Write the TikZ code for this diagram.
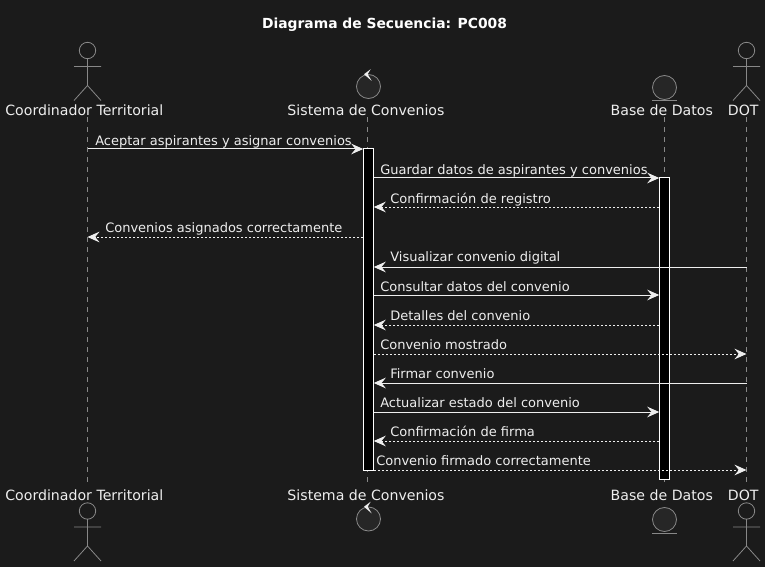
\documentclass[tikz,border=0pt]{standalone}
\usepackage{fontspec}
\setmainfont{DejaVu Sans}
\usetikzlibrary{arrows.meta}
\definecolor{bgcol}{HTML}{1B1B1B}
\definecolor{figcol}{HTML}{888888}
\definecolor{figfill}{HTML}{262626}
\definecolor{msgcol}{HTML}{EEEEEE}
\tikzset{
  msgtip/.style={-{Stealth[length=9pt,width=8pt,inset=3.2pt]}},
  msg/.style={draw=msgcol,line width=.75pt,msgtip},
  reply/.style={msg,dash pattern=on 1.5pt off 1.5pt},
  msgtext/.style={anchor=base west,inner sep=0pt,text=msgcol,font=\fontsize{9.75}{12}\selectfont},
  partname/.style={anchor=base,inner sep=0pt,text=msgcol,font=\fontsize{10.6}{13}\selectfont},
  lifeline/.style={draw=figcol,line width=.6pt,dash pattern=on 3.75pt off 3.75pt},
  figure/.style={draw=figcol,line width=.6pt},
  actbox/.style={draw=white,fill=black,line width=.75pt,minimum width=7.2pt,inner sep=0pt},
}
\begin{document}
\begin{tikzpicture}[x=.75pt,y=-.75pt]
  \fill[bgcol] (0,0) rectangle (765,567);
  \useasboundingbox (0,0) rectangle (765,567);
  \node[anchor=base,inner sep=0pt,text=white,font=\fontsize{10.4}{13}\selectfont\bfseries] (Title) at (384.5,29) {Diagrama de Secuencia: PC008};

  % lifelines
  \coordinate (CoordTop) at (87.5,117);
  \coordinate (CoordEnd) at (87.5,483);
  \coordinate (SistTop) at (367.5,117);
  \coordinate (SistEnd) at (367.5,483);
  \coordinate (BaseTop) at (664.5,117);
  \coordinate (BaseEnd) at (664.5,483);
  \coordinate (DotTop) at (746.5,117);
  \coordinate (DotEnd) at (746.5,483);
  \draw[lifeline] (CoordTop) -- (CoordEnd);
  \draw[lifeline] (SistTop) -- (SistEnd);
  \draw[lifeline] (BaseTop) -- (BaseEnd);
  \draw[lifeline] (DotTop) -- (DotEnd);

  % activation bars
  \node[actbox,minimum height=240.75pt] (ActSist) at (368.5,309.5) {};
  \node[actbox,minimum height=225.75pt] (ActBase) at (664.5,328.5) {};

  % names, top and bottom
  \node[partname] (CoordNameA) at (84.3,115.5) {Coordinador Territorial};
  \node[partname] (SistNameA) at (366,115.5) {Sistema de Convenios};
  \node[partname] (BaseNameA) at (661.8,115.5) {Base de Datos};
  \node[partname] (DotNameA) at (743.3,115.5) {DOT};
  \node[partname] (CoordNameB) at (84.3,500) {Coordinador Territorial};
  \node[partname] (SistNameB) at (366,500) {Sistema de Convenios};
  \node[partname] (BaseNameB) at (661.8,500) {Base de Datos};
  \node[partname] (DotNameB) at (743.3,500) {DOT};

  % actors
  \foreach \ax/\ay in {87.5/50.5,746.5/50.5,87.5/511,746.5/511}{
    \draw[figure] (\ax,\ay) circle (8.2);
    \draw[figure] (\ax,\ay+8.2) -- (\ax,\ay+35) (\ax-13.5,\ay+16) -- (\ax+13.5,\ay+16)
      (\ax-13.5,\ay+50) -- (\ax,\ay+35) -- (\ax+13.5,\ay+50);
  }

  % control
  \foreach \cy in {86.5,519}{
    \draw[figure,fill=figfill] (368.5,\cy) circle (12);
    \fill[msgcol] (364,\cy-12.3) -- (370.7,\cy-17.3) -- (367.7,\cy-12.3) -- (371.7,\cy-5.6) -- cycle;
  }

  % entity
  \foreach \ey/\ly in {87.5/100.5,519.5/533}{
    \draw[figure,fill=figfill] (664.5,\ey) circle (12);
    \draw[figure] (652,\ly) -- (677,\ly);
  }

  % messages
  \coordinate (M1) at (0,149);
  \coordinate (M2) at (0,178);
  \coordinate (M3) at (0,207);
  \coordinate (M4) at (0,237);
  \coordinate (M5) at (0,267);
  \coordinate (M6) at (0,295);
  \coordinate (M7) at (0,325);
  \coordinate (M8) at (0,354);
  \coordinate (M9) at (0,383);
  \coordinate (M10) at (0,412);
  \coordinate (M11) at (0,441);
  \coordinate (M12) at (0,470);

  \draw[msg] (CoordTop |- M1) -- (ActSist.west |- M1);
  \draw[msg] (ActSist.east |- M2) -- (ActBase.west |- M2);
  \draw[reply] (ActBase.west |- M3) -- (ActSist.east |- M3);
  \draw[reply] (ActSist.west |- M4) -- (CoordTop |- M4);
  \draw[msg] (DotTop |- M5) -- (ActSist.east |- M5);
  \draw[msg] (ActSist.east |- M6) -- (ActBase.west |- M6);
  \draw[reply] (ActBase.west |- M7) -- (ActSist.east |- M7);
  \draw[reply] (ActSist.east |- M8) -- (DotTop |- M8);
  \draw[msg] (DotTop |- M9) -- (ActSist.east |- M9);
  \draw[msg] (ActSist.east |- M10) -- (ActBase.west |- M10);
  \draw[reply] (ActBase.west |- M11) -- (ActSist.east |- M11);
  \draw[reply] (ActSist.east |- M12) -- (DotTop |- M12);

  \node[msgtext] (T1) at (95,145.5) {Aceptar aspirantes y asignar convenios};
  \node[msgtext] (T2) at (380,174.5) {Guardar datos de aspirantes y convenios};
  \node[msgtext] (T3) at (390,203.5) {Confirmación de registro};
  \node[msgtext] (T4) at (105,232.5) {Convenios asignados correctamente};
  \node[msgtext] (T5) at (390,262) {Visualizar convenio digital};
  \node[msgtext] (T6) at (380,291) {Consultar datos del convenio};
  \node[msgtext] (T7) at (390,320) {Detalles del convenio};
  \node[msgtext] (T8) at (380,349) {Convenio mostrado};
  \node[msgtext] (T9) at (390,378) {Firmar convenio};
  \node[msgtext] (T10) at (380,407) {Actualizar estado del convenio};
  \node[msgtext] (T11) at (390,436) {Confirmación de firma};
  \node[msgtext] (T12) at (376,465) {Convenio firmado correctamente};
\end{tikzpicture}
\end{document}
